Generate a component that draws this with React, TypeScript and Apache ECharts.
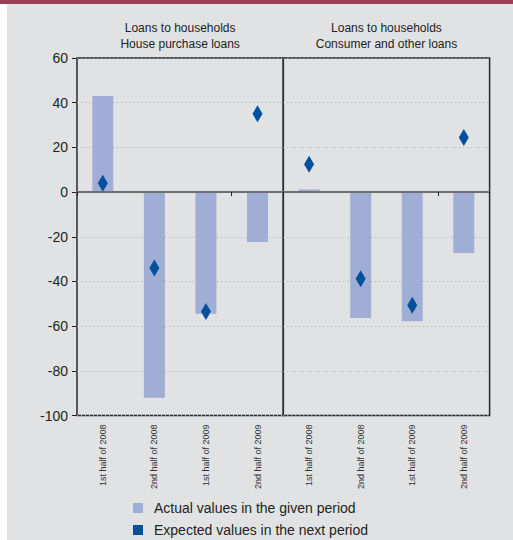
import React, { useEffect, useRef } from "react";
import * as echarts from "echarts";

// Half-year periods shown under each panel
const periods = ["1st half of 2008", "2nd half of 2008", "1st half of 2009", "2nd half of 2009"];

// Net percentage balances, house purchase loans
const houseActual = [43, -92, -54.5, -22.4];
const houseExpected = [4, -34, -53.5, 35];

// Net percentage balances, consumer and other loans
const consumerActual = [1.2, -56.4, -57.8, -27.3];
const consumerExpected = [12.4, -38.8, -50.7, 24.4];

const panelTitles = [
  "Loans to households\nHouse purchase loans",
  "Loans to households\nConsumer and other loans",
];

const legendActual = "Actual values in the given period";
const legendExpected = "Expected values in the next period";

const FONT = "'Liberation Sans', Arial, sans-serif";
const BAR_COLOR = "#a0aed6";
const DIAMOND_COLOR = "#00509e";
const TEXT_COLOR = "#222";

const GRID_TOP = 58;
const GRID_HEIGHT = 357.5;
const GRID_WIDTH = 206.3;
const GRID_LEFTS = [77, 283.3];

export default function App() {
  const ref = useRef<HTMLDivElement>(null);

  useEffect(() => {
    if (!ref.current) return;
    const chart = echarts.init(ref.current, undefined, { renderer: "svg" });

    const grids = GRID_LEFTS.map((left) => ({
      left,
      top: GRID_TOP,
      width: GRID_WIDTH,
      height: GRID_HEIGHT,
      show: true,
      borderColor: "#2a2a2a",
      borderWidth: 1.5,
      backgroundColor: "transparent",
    }));

    const yAxes = [0, 1].map((i) => ({
      type: "value" as const,
      gridIndex: i,
      min: -100,
      max: 60,
      interval: 20,
      axisLine: { show: false },
      axisTick: {
        show: i === 0,
        length: 5,
        lineStyle: { color: TEXT_COLOR, width: 1 },
      },
      axisLabel: {
        show: i === 0,
        fontSize: 14,
        color: TEXT_COLOR,
        fontFamily: FONT,
        margin: 9,
      },
      splitLine: {
        show: true,
        lineStyle: { color: "#a8a8a8", type: [1, 3] as any, width: 1 },
      },
    }));

    // Per panel: one x axis carrying the period labels at the bottom,
    // and one sitting on zero that draws the zero line and its ticks.
    const xAxes: any[] = [];
    [0, 1].forEach((i) => {
      xAxes.push({
        type: "category",
        gridIndex: i,
        data: periods,
        position: "bottom",
        axisLine: { show: false, onZero: false },
        axisTick: { show: false },
        axisLabel: {
          rotate: 90,
          fontSize: 9,
          color: "#333",
          fontFamily: FONT,
          margin: 9,
          interval: 0,
        },
      });
      xAxes.push({
        type: "category",
        gridIndex: i,
        data: periods,
        position: "bottom",
        axisLine: {
          show: true,
          onZero: true,
          lineStyle: { color: "#6e6e6e", width: 2 },
        },
        axisTick: {
          show: true,
          length: 4,
          lineStyle: { color: TEXT_COLOR, width: 1 },
        },
        axisLabel: { show: false },
        z: 5,
      });
    });

    const panels = [
      { actual: houseActual, expected: houseExpected },
      { actual: consumerActual, expected: consumerExpected },
    ];

    const series: any[] = [];
    panels.forEach((p, i) => {
      series.push({
        name: legendActual,
        type: "bar",
        xAxisIndex: i * 2,
        yAxisIndex: i,
        data: p.actual,
        barWidth: 21,
        itemStyle: { color: BAR_COLOR },
        z: 2,
      });
      series.push({
        name: legendExpected,
        type: "scatter",
        xAxisIndex: i * 2,
        yAxisIndex: i,
        data: p.expected,
        symbol: "diamond",
        symbolSize: [10, 17],
        itemStyle: { color: DIAMOND_COLOR, opacity: 1 },
        z: 10,
      });
    });

    chart.setOption({
      animation: false,
      backgroundColor: "transparent",
      textStyle: { fontFamily: FONT },
      title: panelTitles.map((text, i) => ({
        text,
        left: GRID_LEFTS[i] + GRID_WIDTH / 2,
        top: 20,
        textAlign: "center",
        padding: 0,
        textStyle: {
          fontSize: 12,
          fontWeight: "normal",
          color: TEXT_COLOR,
          fontFamily: FONT,
          lineHeight: 16,
        },
      })),
      legend: {
        orient: "vertical",
        left: 133,
        top: 501,
        height: 39,
        padding: 0,
        itemWidth: 10,
        itemHeight: 10,
        itemGap: 8,
        textStyle: { fontSize: 14, color: TEXT_COLOR, fontFamily: FONT, padding: [0, 0, 0, 6] },
        data: [
          { name: legendActual, icon: "rect", itemStyle: { color: BAR_COLOR } },
          { name: legendExpected, icon: "rect", itemStyle: { color: DIAMOND_COLOR } },
        ],
      },
      grid: grids,
      xAxis: xAxes,
      yAxis: yAxes,
      series,
    });

    return () => chart.dispose();
  }, []);

  return (
    <div
      style={{
        position: "fixed",
        left: 0,
        top: 0,
        width: 513,
        height: 540,
        background: "#ffffff",
        overflow: "hidden",
      }}
    >
      <div
        style={{
          position: "absolute",
          left: 7,
          top: 0,
          width: 506,
          height: 540,
          background: "#e1e2e4",
        }}
      />
      <div
        style={{
          position: "absolute",
          left: 0,
          top: 0,
          width: 513,
          height: 4,
          background: "#9c3f55",
        }}
      />
      <div
        ref={ref}
        style={{ position: "absolute", left: 0, top: 0, width: 513, height: 540 }}
      />
    </div>
  );
}
